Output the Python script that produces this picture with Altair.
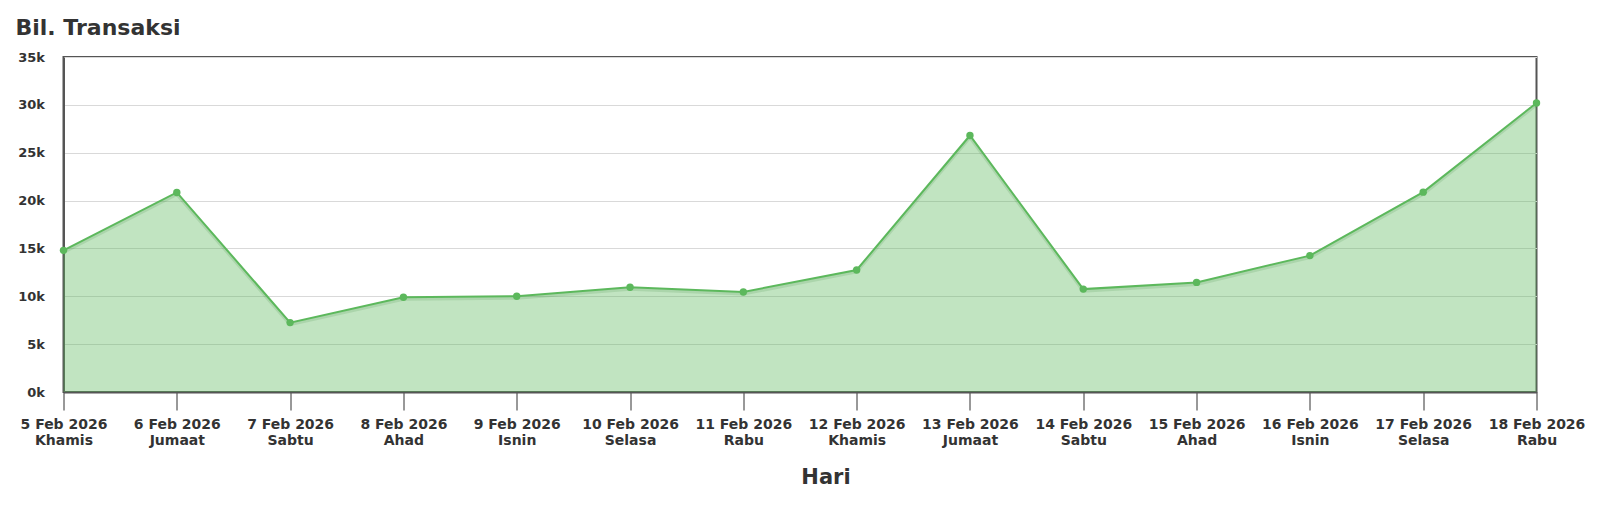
import altair as alt
import pandas as pd

dates = ["5 Feb 2026", "6 Feb 2026", "7 Feb 2026", "8 Feb 2026", "9 Feb 2026",
         "10 Feb 2026", "11 Feb 2026", "12 Feb 2026", "13 Feb 2026", "14 Feb 2026",
         "15 Feb 2026", "16 Feb 2026", "17 Feb 2026", "18 Feb 2026"]
days = ["Khamis", "Jumaat", "Sabtu", "Ahad", "Isnin", "Selasa", "Rabu",
        "Khamis", "Jumaat", "Sabtu", "Ahad", "Isnin", "Selasa", "Rabu"]
values = [14800, 20850, 7250, 9900, 10000, 10950, 10450,
          12750, 26800, 10750, 11450, 14250, 20880, 30200]

labels = [f"{d}\n{w}" for d, w in zip(dates, days)]
df = pd.DataFrame({"hari": labels, "bil": values})

GREEN = "#5cb85c"
FONT = "DejaVu Sans"

x = alt.X("hari:N", sort=labels, scale=alt.Scale(type="point", padding=0),
          axis=alt.Axis(title="Hari", labelExpr="split(datum.label, '\\n')",
                        labelAngle=0, labelFont=FONT, labelFontSize=14, labelFontWeight="bold",
                        labelColor="#333", labelLineHeight=16, labelPadding=7,
                        tickSize=18, tickColor="#333", tickWidth=1,
                        domainColor="#555", domainWidth=2, labelOverlap=False,
                        titleFont=FONT, titleFontSize=21, titleFontWeight="bold",
                        titleColor="#333", titleX=762, titleY=85,
                        titleBaseline="middle", titleAlign="center", grid=False))
y = alt.Y("bil:Q", scale=alt.Scale(domain=[0, 35000], nice=False),
          axis=alt.Axis(title="Bil. Transaksi", values=list(range(0, 35001, 5000)),
                        labelExpr="datum.value/1000 + 'k'",
                        labelFont=FONT, labelFontSize=13, labelFontWeight="bold",
                        labelColor="#333", labelPadding=19, ticks=False,
                        domainColor="#555", domainWidth=2,
                        gridColor="#d9d9d9", gridWidth=1,
                        titleAngle=0, titleX=-48.5, titleY=-30, titleAlign="left",
                        titleBaseline="middle", titleFont=FONT, titleFontSize=22,
                        titleFontWeight="bold", titleColor="#333"))

base = alt.Chart(df)
area = base.mark_area(color=GREEN, opacity=0.38).encode(x=x, y=y)
shadow = base.mark_line(color="#2e7d32", opacity=0.15, strokeWidth=3, yOffset=2).encode(x=x, y=y)
line = base.mark_line(color=GREEN, strokeWidth=2).encode(x=x, y=y)
pts = base.mark_circle(color=GREEN, opacity=1, size=55).encode(x=x, y=y)

chart = alt.layer(area, shadow, line, pts).properties(
    width=1473, height=335,
    autosize=alt.AutoSizeParams(type="none"),
    padding={"left": 55.5, "top": 49, "right": 55, "bottom": 110},
).configure_view(stroke="#555", strokeWidth=2)

chart.save("out.html", embed_options={"renderer": "svg", "actions": False})
